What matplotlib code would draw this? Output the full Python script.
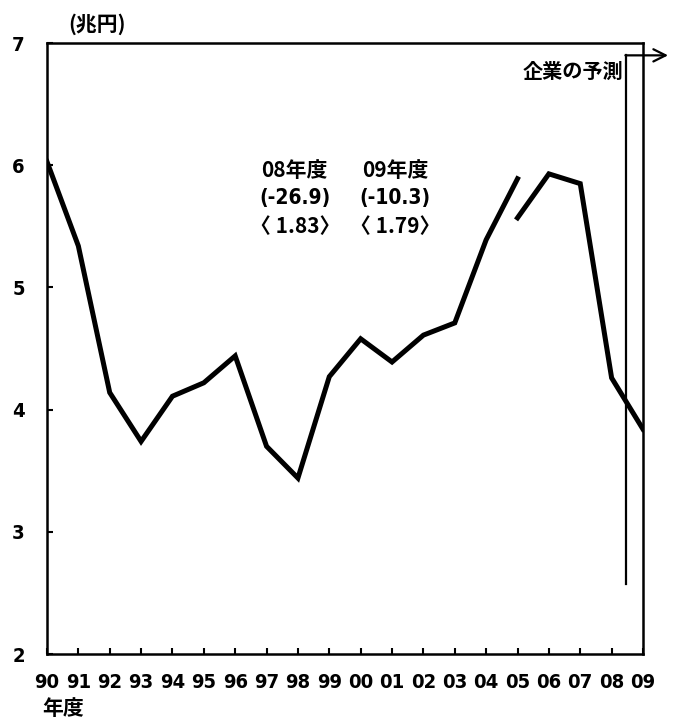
import matplotlib.pyplot as plt

plt.rcParams["font.family"] = ["DejaVu Sans", "Noto Sans CJK JP"]
plt.rcParams["font.stretch"] = "condensed"
plt.rcParams["font.weight"] = "bold"

# fiscal years on the x axis
years = ["90", "91", "92", "93", "94", "95", "96", "97", "98", "99",
         "00", "01", "02", "03", "04", "05", "06", "07", "08", "09"]

# series up to FY05 (old basis) and from FY05 on (new basis), trillion yen
old_values = [6.03, 5.34, 4.14, 3.74, 4.11, 4.22, 4.44, 3.70, 3.44, 4.27,
              4.58, 4.39, 4.61, 4.71, 5.39, 5.89]
new_values = [5.57, 5.93, 5.85, 4.26, 3.84]

y_ticks = [2, 3, 4, 5, 6, 7]

# forecast bracket, in data units
forecast_x = 18.46
forecast_top = 6.90
forecast_bottom = 2.57
arrow_end_x = 19.8

note_years = ["08年度", "09年度"]
note_change = ["(-26.9)", "(-10.3)"]
note_ratio = ["〈 1.83〉", "〈 1.79〉"]

JP = ["Noto Sans CJK JP", "DejaVu Sans"]

fig = plt.figure(figsize=(6.73, 7.19), dpi=100)
ax = fig.add_axes([0.0698, 0.0904, 0.8856, 0.8496])

x_old = list(range(len(old_values)))
x_new = list(range(len(old_values) - 1, len(old_values) - 1 + len(new_values)))
ax.plot(x_old, old_values, color="black", lw=3.6, solid_joinstyle="miter")
ax.plot(x_new, new_values, color="black", lw=3.6, solid_joinstyle="miter")

ax.set_xlim(0, len(years) - 1)
ax.set_ylim(2, 7)
ax.set_xticks(range(len(years)))
ax.set_xticklabels(years)
ax.set_yticks(y_ticks)
ax.tick_params(direction="in", length=4, width=1.5, labelsize=14.5)
ax.tick_params(axis="x", pad=14)
ax.tick_params(axis="y", pad=16)
for s in ax.spines.values():
    s.set_linewidth(1.8)

# forecast marker: vertical rule plus arrow running off to the right
ax.plot([forecast_x, forecast_x], [forecast_bottom, forecast_top],
        color="black", lw=1.6, clip_on=False)
ax.annotate("", xy=(arrow_end_x, forecast_top), xytext=(forecast_x - 0.02, forecast_top),
            arrowprops=dict(arrowstyle="->", color="black", lw=1.6,
                            mutation_scale=22, shrinkA=0, shrinkB=0),
            annotation_clip=False)
ax.text(forecast_x - 0.1, 6.77, "企業の予測", ha="right", va="center",
        fontsize=14.5, family=JP, weight="bold")

for i, col_x in enumerate([7.9, 11.1]):
    ax.text(col_x, 5.96, note_years[i], ha="center", va="center", fontsize=15, family=JP)
    ax.text(col_x, 5.73, note_change[i], ha="center", va="center", fontsize=15)
    ax.text(col_x, 5.50, note_ratio[i], ha="center", va="center", fontsize=15, family=JP)

fig.text(0.144, 0.966, "(兆円)", ha="center", va="center", fontsize=15, family=JP)
fig.text(0.094, 0.014, "年度", ha="center", va="center", fontsize=15, family=JP)

fig.savefig("out.png", dpi=100)
